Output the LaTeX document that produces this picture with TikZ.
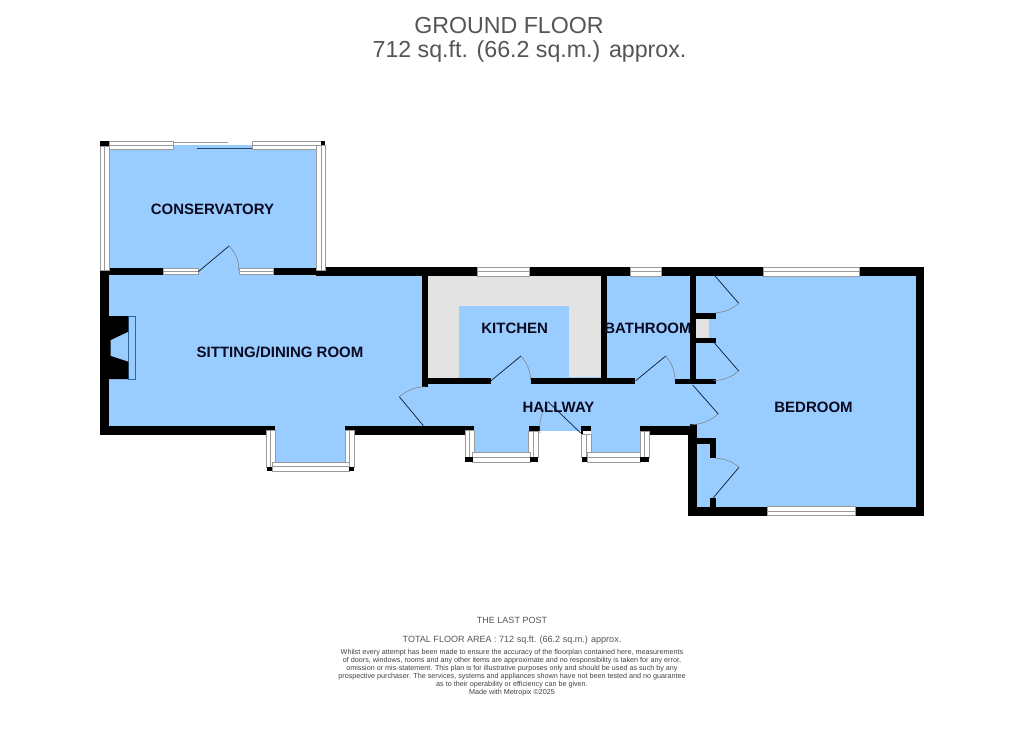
\documentclass[tikz,border=0pt]{standalone}
\usepackage{fontspec}
\setmainfont{Liberation Sans}
\definecolor{roomblue}{HTML}{99CCFF}
\definecolor{worktop}{HTML}{E3E3E3}
\definecolor{labelc}{HTML}{0A0A20}
\definecolor{titlec}{HTML}{555555}
\definecolor{winc}{HTML}{9A9A9A}
\definecolor{leafc}{HTML}{10203A}
\definecolor{hearth}{HTML}{336699}
\tikzset{
 room/.style={fill=roomblue},
 wall/.style={fill=black},
 winframe/.style={fill=white,draw=winc,line width=0.6pt},
 winline/.style={draw=winc,line width=0.6pt},
 leaf/.style={draw=leafc,line width=0.55pt},
 swing/.style={draw=black!50,line width=0.4pt},
 roomlabel/.style={font=\fontsize{11.25}{13}\selectfont\bfseries,text=labelc,inner sep=0pt},
 fineprint/.style={font=\fontsize{5.4}{6}\selectfont,text=black!75,inner sep=0pt},
}
\newcommand{\winh}[4]{\path[winframe] (#1,#2) rectangle (#3,#4);\path[winline] (#1,{(#2+#4)/2}) -- (#3,{(#2+#4)/2});}
\newcommand{\winv}[4]{\path[winframe] (#1,#2) rectangle (#3,#4);\path[winline] ({(#1+#3)/2},#2) -- ({(#1+#3)/2},#4);}
\newcommand{\doorswing}[7]{\path[leaf] (#1,#2) -- (#3,#4);\path[swing] (#3,#4) to[#7] (#5,#6);}
\begin{document}
\begin{tikzpicture}[x=0.75pt,y=-0.75pt]
\useasboundingbox (0,0) rectangle (1024,732);
\fill[white] (0,0) rectangle (1024,732);
% rooms
\fill[room] (109,149) rectangle (317,271);
\fill[room] (173,144.5) rectangle (252,150);
\fill[room] (109,270) rectangle (422,426);
\fill[room] (275,420) rectangle (345,463);
\fill[room] (415,384) rectangle (700,431);
\fill[room] (474,426) rectangle (529,453);
\fill[room] (591,426) rectangle (640,453);
\fill[room] (607,276) rectangle (690,386);
\fill[room] (695,276) rectangle (916,507);
\fill[room] (491,376) rectangle (531,386);
% kitchen
\fill[worktop] (428,276) rectangle (601,378);
\fill[room] (459,306) rectangle (569,378);
\fill[room] (569,376.7) rectangle (601,378);
\fill[worktop] (695.7,319) rectangle (709,338);
% walls
\fill[wall] (100,270) rectangle (109,435);
\fill[wall] (100,426) rectangle (266.7,435);
\fill[wall] (266.7,426) rectangle (275,430.5);
\fill[wall] (345,426) rectangle (354,430.5);
\fill[wall] (354,426) rectangle (465,435);
\fill[wall] (465,426) rectangle (474,430.5);
\fill[wall] (528.7,426) rectangle (540,431);
\fill[wall] (581,426) rectangle (591,431);
\fill[wall] (581,431) rectangle (582.5,434);
\fill[wall] (640,426) rectangle (649,431);
\fill[wall] (649,426) rectangle (696.7,435);
\fill[wall] (109,268.3) rectangle (163,274.5);
\fill[wall] (273,268.3) rectangle (317,274.5);
\fill[wall] (316,267.3) rectangle (477.3,276);
\fill[wall] (529.3,267.3) rectangle (630,276);
\fill[wall] (661.7,267.3) rectangle (763.3,276);
\fill[wall] (859.3,267.3) rectangle (924.3,276);
\fill[wall] (915.7,267.3) rectangle (924.3,515.7);
\fill[wall] (688,506.7) rectangle (767.3,515.7);
\fill[wall] (855.7,506.7) rectangle (924.3,515.7);
\fill[wall] (688,426) rectangle (696.7,515.7);
\fill[wall] (690,424) rectangle (696.7,430);
\fill[wall] (696.7,438) rectangle (716,444);
\fill[wall] (710,438) rectangle (716,458.3);
\fill[wall] (710,497.7) rectangle (716,507);
\fill[wall] (422,276) rectangle (428,387);
\fill[wall] (428,378.3) rectangle (491,384.3);
\fill[wall] (531,378.3) rectangle (635,384.3);
\fill[wall] (601,276) rectangle (607,380);
\fill[wall] (675,379.3) rectangle (716,384.3);
\fill[wall] (690,276) rectangle (695.7,384);
\fill[wall] (695,313.3) rectangle (716,319.3);
\fill[wall] (695,337.7) rectangle (716,343.3);
% fireplace
\fill[room,draw=hearth,line width=0.5pt] (128.3,316) rectangle (135.6,379);
\fill[wall] (109,316) -- (128.3,316) -- (128.3,331.7) -- (110.7,340) -- (110.7,356) -- (128.3,361.7) -- (128.3,379) -- (109,379) -- cycle;
% windows: conservatory
\winh{109}{141}{173}{149.5}
\winh{252}{141}{321}{149.5}
\winv{100}{146}{109}{270}
\winv{316.7}{145}{325.3}{270}
\fill[wall] (100,140.7) rectangle (109,146);
\fill[wall] (321,140.7) rectangle (325.3,145);
\path[winline,line width=0.7pt] (173,142) -- (228,142);
\path[leaf,draw=hearth!70!black,line width=0.7pt] (197,148) -- (252,148);
\winh{163}{268.3}{198}{274.5}
\winh{239}{268.3}{273}{274.5}
% windows: walls
\winh{477.3}{267.3}{529.3}{276}
\winh{630}{267.3}{661.7}{276}
\winh{763.3}{267.3}{859.3}{276}
\winh{767.3}{506.7}{855.7}{515.7}
% bay: sitting room
\winv{266.7}{430.5}{275}{467}
\winv{345}{430.5}{354}{467}
\winh{272}{462}{349}{471}
\fill[wall] (267,467) rectangle (272,471);
\fill[wall] (349,467) rectangle (354,471);
% bay: hallway 1
\winv{465}{430.5}{474}{457}
\winv{528.7}{431}{538.7}{457}
\winh{472.7}{452.7}{530}{462}
\fill[wall] (465,457) rectangle (473,462);
\fill[wall] (530,457) rectangle (538,462);
% bay: hallway 2
\winv{581.7}{434}{591}{457}
\winv{640}{431}{649}{457}
\winh{587}{452.7}{640}{462}
\fill[wall] (581.7,457) rectangle (587,462);
\fill[wall] (640,457) rectangle (649,462);
% doors
\doorswing{198.3}{271.7}{229}{246}{238.7}{270}{bend left=22}
\doorswing{423.3}{425.7}{399.3}{396.7}{425}{386.7}{bend left=18}
\doorswing{491}{380.7}{521}{356}{530.7}{380}{bend left=18}
\doorswing{635.7}{380.7}{665.7}{356}{675}{380}{bend left=18}
\doorswing{580.7}{433}{548}{401.7}{540}{433}{bend right=18}
\doorswing{715}{276}{738.7}{303.3}{716}{312.7}{bend left=18}
\doorswing{713.3}{341.7}{738.7}{371}{713.3}{380.7}{bend left=18}
\doorswing{692.7}{385}{718.3}{414}{689.3}{425}{bend left=18}
\doorswing{713.3}{497.7}{739}{467.3}{716}{458.3}{bend right=18}
% labels
\node[roomlabel] (conservatory) at (212.5,209.5) {CONSERVATORY};
\node[roomlabel] (sitting) at (280,352) {SITTING/DINING ROOM};
\node[roomlabel] (kitchen) at (514.7,328) {KITCHEN};
\node[roomlabel] (bathroom) at (648,328) {BATHROOM};
\node[roomlabel] (hallway) at (558.5,407) {HALLWAY};
\node[roomlabel] (bedroom) at (813.5,407.5) {BEDROOM};
\node[font=\fontsize{17.4}{20}\selectfont,text=titlec,inner sep=0pt] (title) at (509,26) {GROUND FLOOR};
\node[font=\fontsize{17.4}{20}\selectfont,text=titlec,inner sep=0pt] (area) at (529.5,51) {712 sq.ft. (66.2 sq.m.) approx.};
\node[font=\fontsize{6.75}{8}\selectfont,text=titlec,inner sep=0pt] (post) at (512,620) {THE LAST POST};
\node[font=\fontsize{6.77}{8}\selectfont,text=titlec,inner sep=0pt] (total) at (512,640) {TOTAL FLOOR AREA : 712 sq.ft. (66.2 sq.m.) approx.};
\node[fineprint] (l1) at (512,652.5) {Whilst every attempt has been made to ensure the accuracy of the floorplan contained here, measurements};
\node[fineprint] (l2) at (512,660.5) {of doors, windows, rooms and any other items are approximate and no responsibility is taken for any error,};
\node[fineprint] (l3) at (512,668.5) {omission or mis-statement. This plan is for illustrative purposes only and should be used as such by any};
\node[fineprint] (l4) at (512,676.5) {prospective purchaser. The services, systems and appliances shown have not been tested and no guarantee};
\node[fineprint] (l5) at (512,684.5) {as to their operability or efficiency can be given.};
\node[fineprint] (l6) at (512,692.5) {Made with Metropix ©2025};
\end{tikzpicture}
\end{document}
